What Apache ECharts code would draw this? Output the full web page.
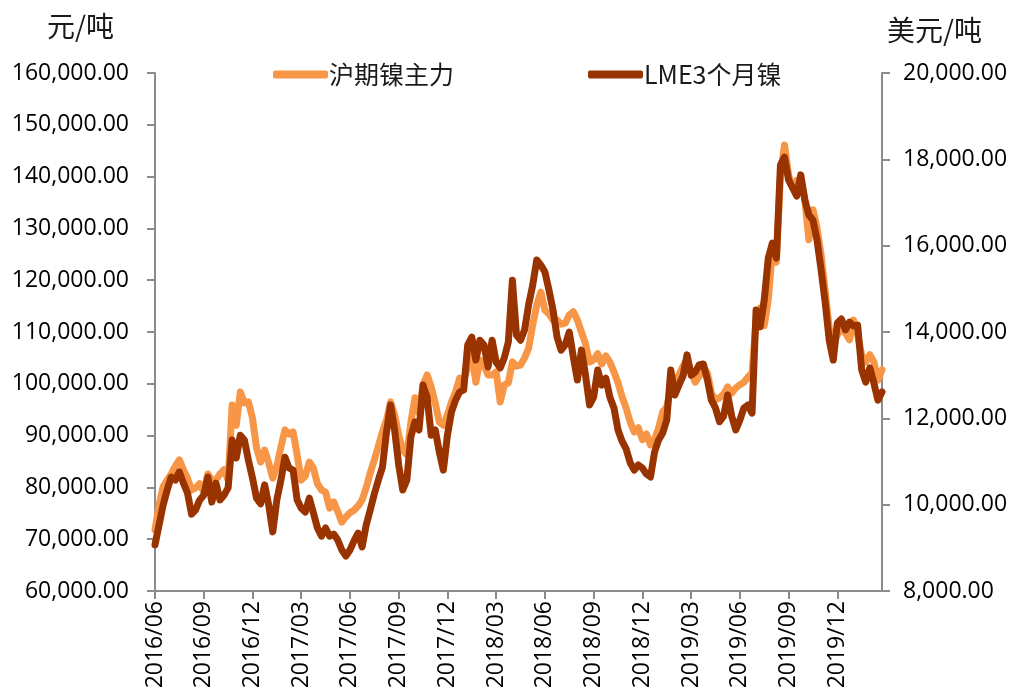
<!DOCTYPE html>
<html>
<head>
<meta charset="utf-8">
<script src="https://cdn.jsdelivr.net/npm/echarts@6/dist/echarts.min.js"></script>
<style>
html,body{margin:0;padding:0;background:#fff;}
#chart{width:1015px;height:698px;}
</style>
</head>
<body>
<div id="chart"></div>
<script>
// Months covered (each month sampled 4 times, roughly weekly)
const months = [
 '2016/06','2016/07','2016/08','2016/09','2016/10','2016/11','2016/12',
 '2017/01','2017/02','2017/03','2017/04','2017/05','2017/06','2017/07','2017/08','2017/09','2017/10','2017/11','2017/12',
 '2018/01','2018/02','2018/03','2018/04','2018/05','2018/06','2018/07','2018/08','2018/09','2018/10','2018/11','2018/12',
 '2019/01','2019/02','2019/03','2019/04','2019/05','2019/06','2019/07','2019/08','2019/09','2019/10','2019/11','2019/12',
 '2020/01','2020/02'
];
const samplesPerMonth = 4;
const labelEvery = 12; // a label every 3 months

// 沪期镍主力 (元/吨), left axis
const shfeNickel = [
 71800,76600,80100,81400,82600,84100,85300,83400,81800,79500,79900,80700,
 79100,82600,81400,81400,82600,83400,81400,95900,92000,98400,96300,96500,
 93400,87600,84900,87200,84700,81800,84100,87800,91100,90300,90700,86300,
 81400,82200,84900,83700,80700,79500,79100,76000,77200,75300,73300,74300,
 75100,75600,76400,77600,79900,82800,85300,88000,90700,93000,96500,94000,
 90100,87200,86300,92600,97300,94400,99800,101700,99400,96300,92600,92000,
 94000,96500,98400,101100,100700,103100,105600,100300,104600,103600,101700,101700,
 102300,96500,99800,100200,104200,103400,103600,105000,106900,111400,115200,117700,
 114200,113500,112300,112300,111500,111700,113300,113900,112300,110000,107700,104200,
 104600,105800,103800,105400,104200,102300,100200,97500,95300,92600,90700,91500,
 89200,90300,88200,89200,91500,94600,95500,99200,100300,101700,103400,104600,
 102300,100300,101500,103200,102100,98200,96900,97300,98000,99400,98200,99200,
 99800,100300,101300,102100,112300,114600,111200,116200,125800,123500,140300,146100,
 140300,137800,139300,139300,135500,127800,133600,130100,124900,118100,110800,107900,
 109400,110800,109800,108500,112300,109400,105600,104200,105600,104200,100700,102700
];

// LME3个月镍 (美元/吨), right axis
const lmeNickel = [
 9070,9530,9990,10340,10640,10570,10760,10500,10270,9780,9880,10110,
 10220,10640,10060,10500,10110,10220,10390,11500,11080,11610,11500,11030,
 10620,10150,10020,10460,9990,9370,10110,10570,11100,10850,10800,10110,
 9920,9830,10150,9810,9460,9270,9460,9270,9320,9180,8950,8810,
 8950,9160,9340,9020,9530,9880,10250,10570,10870,11680,12310,11730,
 10920,10340,10570,11570,11920,11730,12770,12490,11610,11730,11220,10800,
 11610,12150,12420,12610,12660,13700,13880,13350,13810,13700,13190,13810,
 13300,13170,13400,13770,15200,13930,13810,14050,14630,15090,15670,15550,
 15390,14970,14510,13880,13580,13700,14000,13420,12890,13580,13000,12310,
 12490,13120,12770,12930,12490,12240,11730,11470,11290,10970,10800,10920,
 10850,10710,10640,11220,11500,11660,11960,13120,12540,12770,12980,13470,
 13000,13070,13240,13260,12890,12420,12240,11920,12050,12540,12050,11730,
 11960,12240,12310,12120,14510,14120,14740,15710,16060,15710,17870,18050,
 17520,17340,17150,17640,17060,16710,16590,16130,15440,14700,13810,13350,
 14210,14300,14050,14230,14140,14160,13120,12840,13170,12820,12420,12610
];

const seriesNames = ['沪期镍主力', 'LME3个月镍'];
const axisTitles = ['元/吨', '美元/吨'];

const categories = [];
months.forEach(m => { for (let k = 0; k < samplesPerMonth; k++) categories.push(m); });

const fmt = v => v.toLocaleString('en-US', {minimumFractionDigits: 2, maximumFractionDigits: 2});
const axisGray = '#8c8c8c';
const labelFont = 'Open Sans';

const chart = echarts.init(document.getElementById('chart'), null, {renderer: 'canvas'});
chart.setOption({
  animation: false,
  backgroundColor: '#ffffff',
  grid: {left: 155, right: 133, top: 73, bottom: 107, containLabel: false},
  legend: {
    top: 57, left: 268,
    itemWidth: 55, itemHeight: 8, itemGap: 134,
    icon: 'roundRect',
    textStyle: {fontFamily: 'Noto Sans CJK SC', fontSize: 25, color: '#1a1a1a', padding: [0,0,0,-4]},
    data: seriesNames
  },
  graphic: [
    {type: 'text', left: 47, top: 12, style: {text: axisTitles[0], font: '28px "Noto Sans CJK SC"', fill: '#1a1a1a'}},
    {type: 'text', left: 887, top: 16, style: {text: axisTitles[1], font: '28px "Noto Sans CJK SC"', fill: '#1a1a1a'}}
  ],
  xAxis: {
    type: 'category',
    data: categories,
    boundaryGap: false,
    axisLine: {lineStyle: {color: axisGray, width: 2}},
    axisTick: {show: true, length: 8, lineStyle: {color: axisGray, width: 2}, interval: (i) => i % labelEvery === 0},
    axisLabel: {
      rotate: 90, margin: 10, interval: (i) => i % labelEvery === 0,
      fontFamily: labelFont, fontSize: 23, color: '#000'
    },
    splitLine: {show: false}
  },
  yAxis: [
    {
      type: 'value', min: 60000, max: 160000, interval: 10000, position: 'left',
      axisLine: {show: true, lineStyle: {color: axisGray, width: 2}},
      axisTick: {show: true, length: 8, lineStyle: {color: axisGray, width: 2}},
      axisLabel: {formatter: fmt, margin: 26, fontFamily: labelFont, fontSize: 23, color: '#000'},
      splitLine: {show: false}
    },
    {
      type: 'value', min: 8000, max: 20000, interval: 2000, position: 'right',
      axisLine: {show: true, lineStyle: {color: axisGray, width: 2}},
      axisTick: {show: true, length: 8, lineStyle: {color: axisGray, width: 2}},
      axisLabel: {formatter: fmt, margin: 21, fontFamily: labelFont, fontSize: 23, color: '#000'},
      splitLine: {show: false}
    }
  ],
  series: [
    {
      name: seriesNames[0], type: 'line', yAxisIndex: 0, data: shfeNickel,
      showSymbol: false, symbol: 'none', smooth: false,
      lineStyle: {color: '#F79646', width: 7, cap: 'round', join: 'round'},
      itemStyle: {color: '#F79646'}, z: 2
    },
    {
      name: seriesNames[1], type: 'line', yAxisIndex: 1, data: lmeNickel,
      showSymbol: false, symbol: 'none', smooth: false,
      lineStyle: {color: '#993300', width: 7, cap: 'round', join: 'round'},
      itemStyle: {color: '#993300'}, z: 3
    }
  ]
});
</script>
</body>
</html>
